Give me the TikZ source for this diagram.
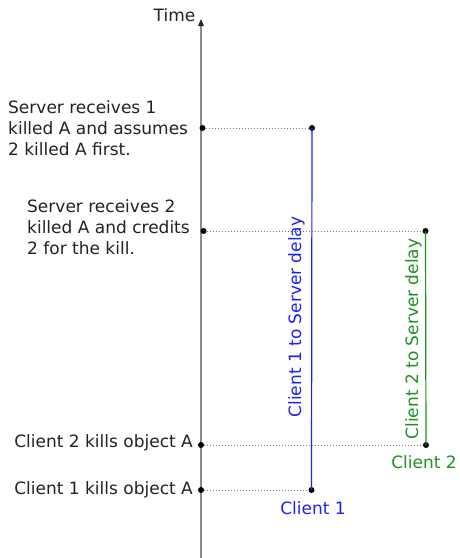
\documentclass[tikz,border=0pt]{standalone}
\usepackage{fontspec}
\setmainfont{DejaVu Sans}
\usetikzlibrary{arrows.meta}
\definecolor{txt}{HTML}{222222}
\definecolor{cblue}{HTML}{2020F0}
\definecolor{cgreen}{HTML}{209020}
\definecolor{axisgray}{HTML}{8A8A8A}
\begin{document}
\begin{tikzpicture}[x=1pt,y=-1pt,
  lbl/.style={inner sep=0pt,text=txt,font=\fontsize{17}{21}\selectfont},
  dotpt/.style={circle,fill=black,inner sep=0pt,minimum size=6pt},
  guide/.style={draw=gray,line width=1pt,dotted},
]
\useasboundingbox (0,0) rectangle (459,558);
% axis
\coordinate (axb) at (201,558);
\coordinate (axt) at (201,19);
\draw[axisgray,line width=2pt,-{Triangle[length=7pt,width=6pt,line width=0pt,color=black!85,fill=black!85]}] (axb) -- (axt);
\node[lbl,anchor=base east] (time) at (195.5,21) {Time};
% events
\node[dotpt] (s1) at (202.5,128) {};
\node[dotpt] (c1s) at (312,128) {};
\node[dotpt] (s2) at (203.5,231) {};
\node[dotpt] (c2s) at (425.5,231) {};
\node[dotpt] (e2) at (201,445) {};
\node[dotpt] (c2) at (426,445) {};
\node[dotpt] (e1) at (201,490) {};
\node[dotpt] (c1) at (311.5,490) {};
\draw[guide] (s1) -- (c1s);
\draw[guide] (s2) -- (c2s);
\draw[guide] (e2) -- (c2);
\draw[guide] (e1) -- (c1);
\draw[cblue,line width=1.2pt] (c1s.center) -- (c1.center);
\draw[cgreen,line width=1.2pt] (c2s.center) -- (c2.center);
% labels
\node[lbl,anchor=west,align=left] (t1) at (8,128) {Server receives 1\\killed A and assumes\\2 killed A first.};
\node[lbl,anchor=west,align=left] (t2) at (27,227) {Server receives 2\\killed A and credits\\2 for the kill.};
\node[lbl,anchor=east] (t3) at (193,443) {Client 2 kills object A};
\node[lbl,anchor=east] (t4) at (193,490) {Client 1 kills object A};
\node[lbl,text=cblue] (l1) at (313,508) {Client 1};
\node[lbl,text=cgreen] (l2) at (424,462) {Client 2};
\node[lbl,text=cblue,rotate=90] (d1) at (296.5,317) {Client 1 to Server delay};
\node[lbl,text=cgreen,rotate=90] (d2) at (413.5,339) {Client 2 to Server delay};
\end{tikzpicture}
\end{document}
